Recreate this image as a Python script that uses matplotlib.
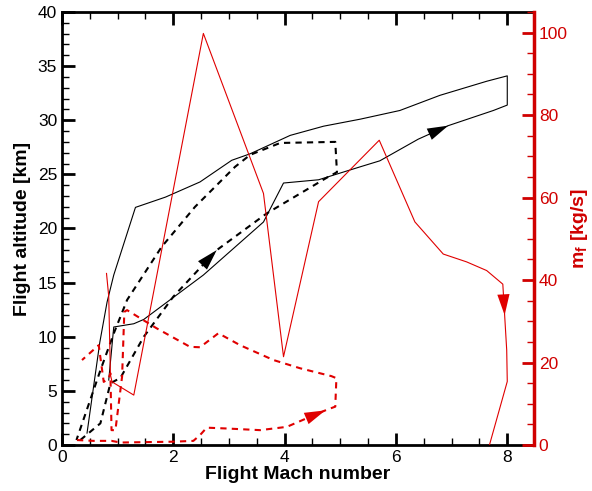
import matplotlib
matplotlib.use('Agg')
import numpy as np
from matplotlib import pyplot as plt
from matplotlib.ticker import MultipleLocator

plt.rcParams['font.family'] = ['Liberation Sans', 'DejaVu Sans']
plt.rcParams['mathtext.fontset'] = 'custom'
plt.rcParams['mathtext.rm'] = 'Liberation Sans:bold'
plt.rcParams['mathtext.bf'] = 'Liberation Sans:bold'

# altitude trajectory, solid (Mach, km)
alt_solid_mach = [0.84, 0.93, 1.29, 1.47, 2.54, 3.62, 3.98, 4.61, 5.36, 5.71, 6.4, 6.94, 7.75, 8.0,
                  8.0, 7.63, 6.79, 6.07, 5.36, 4.70, 4.10, 3.38, 3.05, 2.48, 1.86, 1.32, 0.93, 0.81,
                  0.68, 0.45]
alt_solid_km = [6.0, 10.9, 11.2, 11.6, 15.7, 20.6, 24.2, 24.5, 25.7, 26.25, 28.25, 29.5, 30.9, 31.4,
                34.1, 33.6, 32.3, 30.9, 30.1, 29.45, 28.6, 26.9, 26.3, 24.3, 22.9, 21.95, 15.7, 13.2,
                9.5, 1.1]

# altitude trajectory, dashed
alt_dash_mach = [0.33, 0.69, 0.87, 1.05, 1.47, 2.0, 2.78, 3.68, 4.76, 4.94, 4.91, 3.92, 3.38, 3.11,
                 2.39, 1.79, 1.17, 0.93, 0.69, 0.26]
alt_dash_km = [0.46, 2.0, 5.7, 6.2, 10.0, 13.7, 18.0, 21.4, 24.7, 25.2, 28.0, 27.9, 26.8, 25.7,
               22.0, 18.3, 13.4, 10.3, 6.9, 0.46]

# fuel flow, solid (Mach, kg/s)
mf_solid_mach = [0.80, 0.84, 0.87, 0.90, 1.29, 2.54, 3.62, 3.98, 4.61, 5.70, 6.34, 6.85, 7.27,
                 7.63, 7.92, 7.99, 8.0, 7.68]
mf_solid_kgs = [41.6, 36.0, 17.0, 15.3, 12.1, 99.8, 61.0, 21.4, 59.0, 73.9, 54.1, 46.3, 44.4,
                42.3, 39.0, 23.0, 15.4, 0.0]

# fuel flow, dashed
mf_dash_mach = [0.27, 0.57, 0.89, 1.05, 2.0, 2.36, 2.48, 2.6, 2.96, 3.56, 4.04, 4.4, 4.75, 4.91,
                4.93, 4.84, 4.28, 3.8, 3.2, 2.81, 2.48, 2.30, 1.70, 1.17, 1.12, 1.08, 0.96, 0.89,
                0.87, 0.84, 0.75, 0.66, 0.36]
mf_dash_kgs = [1.2, 1.0, 1.0, 0.6, 0.8, 1.0, 2.4, 4.2, 4.0, 3.6, 4.4, 6.5, 8.5, 9.3,
               16.2, 16.7, 18.6, 20.6, 24.2, 27.1, 23.7, 23.8, 28.3, 32.7, 32.3, 16.6, 3.6, 3.6,
               17.4, 16.2, 15.3, 24.2, 20.6]

RED = '#e00000'


def arrow_on(ax, xs, ys, i, frac, color):
    # arrowhead with its tip at frac along segment i -> i+1
    x0, y0 = xs[i], ys[i]
    x1, y1 = xs[i + 1], ys[i + 1]
    tip = (x0 + frac * (x1 - x0), y0 + frac * (y1 - y0))
    p0 = ax.transData.transform((x0, y0))
    p1 = ax.transData.transform((x1, y1))
    d = (p1 - p0) / np.hypot(*(p1 - p0))
    back = -d * 16 * 72 / fig.dpi
    ax.annotate('', xy=tip, xytext=(back[0], back[1]), textcoords='offset points',
                arrowprops=dict(arrowstyle='-|>,head_length=0.75,head_width=0.22',
                                color=color, lw=0, mutation_scale=20, shrinkA=0, shrinkB=0))


fig = plt.figure(figsize=(5.92, 4.91), dpi=100)
ax = fig.add_axes([0.1047, 0.0937, 0.7973, 0.8819])
ax.set_xlim(0, 8.48)
ax.set_ylim(0, 40)

ax.plot(alt_solid_mach, alt_solid_km, color='black', lw=0.8)
ax.plot(alt_dash_mach, alt_dash_km, color='black', lw=1.5, dashes=(3, 2.5))

ax.xaxis.set_major_locator(MultipleLocator(2))
ax.xaxis.set_minor_locator(MultipleLocator(0.5))
ax.yaxis.set_major_locator(MultipleLocator(5))
ax.yaxis.set_minor_locator(MultipleLocator(1))
ax.tick_params(which='both', direction='in', top=True, right=False, width=2, labelsize=12.5)
ax.tick_params(which='major', length=9)
ax.tick_params(which='minor', length=5, width=1)
for s in ['left', 'bottom', 'top']:
    ax.spines[s].set_linewidth(2)
ax.set_xlabel('Flight Mach number', fontsize=14, fontweight='bold', labelpad=1)
ax.set_ylabel('Flight altitude [km]', fontsize=14, fontweight='bold', labelpad=5)

ax2 = ax.twinx()
ax2.set_ylim(0, 105)
ax2.plot(mf_solid_mach, mf_solid_kgs, color=RED, lw=0.8)
ax2.plot(mf_dash_mach, mf_dash_kgs, color=RED, lw=1.5, dashes=(3, 2.5))
ax2.yaxis.set_major_locator(MultipleLocator(20))
ax2.yaxis.set_minor_locator(MultipleLocator(5))
ax2.tick_params(which='both', direction='in', colors='#d00000', width=2, labelsize=12.5)
ax2.tick_params(which='major', length=9)
ax2.tick_params(which='minor', length=5, width=1)
ax2.spines['right'].set_color('#d00000')
ax2.spines['right'].set_linewidth(2.5)
for s in ['left', 'bottom', 'top']:
    ax2.spines[s].set_visible(False)
ax2.set_ylabel(r'm$_\mathrm{f}$ [kg/s]', color='#d00000', fontsize=14, fontweight='bold', labelpad=1)

arrow_on(ax, alt_solid_mach, alt_solid_km, 10, 1.0, 'black')
arrow_on(ax, alt_dash_mach, alt_dash_km, 5, 1.0, 'black')
arrow_on(ax2, mf_solid_mach, mf_solid_kgs, 14, 0.47, RED)
arrow_on(ax2, mf_dash_mach, mf_dash_kgs, 11, 0.95, RED)

fig.savefig('out.png', dpi=100)
